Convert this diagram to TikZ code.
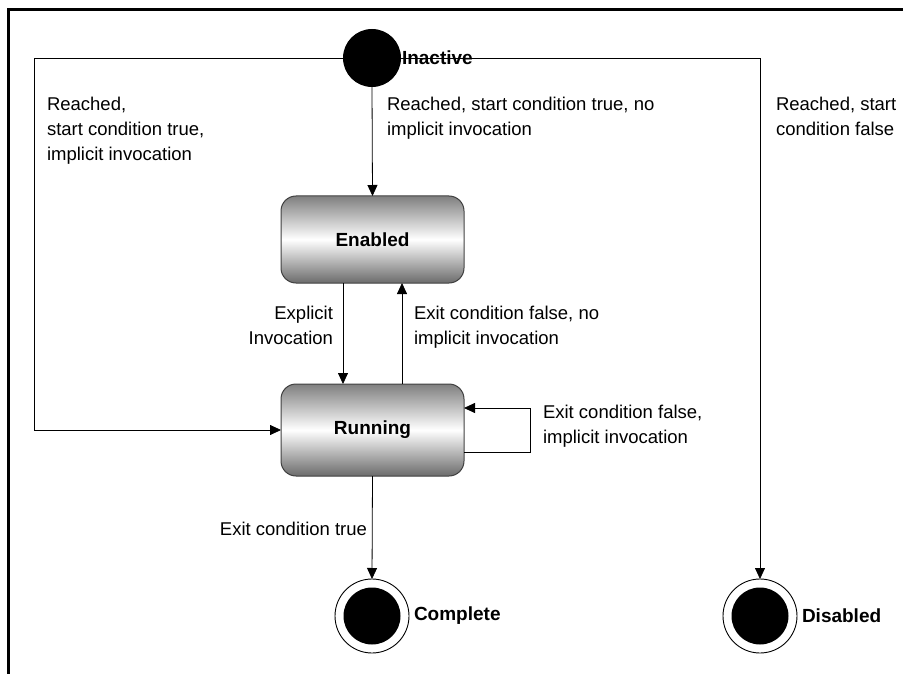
\documentclass[tikz,border=0pt]{standalone}
\usepackage{fontspec}
\setmainfont{Liberation Sans}
\usetikzlibrary{arrows.meta,shapes.geometric}
\begin{document}
\begin{tikzpicture}[x=1pt,y=-1pt,
  every node/.style={inner sep=0pt, outer sep=0pt},
  lbl/.style={font=\fontsize{18.5}{25}\selectfont, align=left},
  statename/.style={font=\fontsize{19}{22}\selectfont\bfseries},
  statebox/.style={draw=black!75, line width=1pt, rounded corners=15pt,
    minimum width=183pt,
    top color=black!50, bottom color=black!58, middle color=white,
    font=\fontsize{19}{22}\selectfont\bfseries},
  initial/.style={circle, fill=black, minimum size=58pt},
  finalring/.style={circle, draw=black, line width=0.9pt, fill=white, minimum size=74pt},
  finaldot/.style={circle, fill=black, minimum size=57pt},
  conn/.style={line width=0.8pt},
  arr/.style={conn, -{Triangle[length=11pt,width=10pt]}},
  frame/.style={line width=3pt}]
\useasboundingbox (0,0) rectangle (903,674);

% outer frame
\draw[frame] (8,674) -- (8,10) -- (903,10);

% states
\node[initial] (inactive) at (372,58) {};
\node[statename, anchor=west] (inactivelbl) at (402,58) {Inactive};
\node[statebox, minimum height=87pt] (enabled) at (372.5,239.5) {Enabled};
\node[statebox, minimum height=92pt] (running) at (372.5,430) {Running};
\node[finalring] (complete) at (372,616) {};
\node[finaldot] (completedot) at (complete.center) {};
\node[statename, anchor=west] (completelbl) at (414,616) {Complete};
\node[finalring] (disabled) at (760,616) {};
\node[finaldot] (disableddot) at (disabled.center) {};
\node[statename, anchor=west] (disabledlbl) at (802,616) {Disabled};

% bend points
\coordinate (lcorner) at (34,58);
\coordinate (rcorner) at (760,58);
\coordinate (loopx) at (530,430);

% transitions
\draw[arr] (inactive.west) -- (lcorner) |- (running.west);
\draw[arr] (inactive.east) -- (rcorner) -- (disabled.north);
\draw[arr] (inactive.south) -- (enabled.north);
\draw[arr] ([xshift=-29.5pt]enabled.south) -- ([xshift=-29.5pt]running.north);
\draw[arr] ([xshift=29.5pt]running.north) -- ([xshift=29.5pt]enabled.south);
\draw[arr] ([yshift=-22pt]running.east) -| ([yshift=-22pt]loopx) |- ([yshift=22pt]running.east);
\draw[arr] (running.south) -- (complete.north);

% transition labels
\node[lbl, anchor=north west] (l1) at (47,97) {Reached,\\start condition true,\\implicit invocation};
\node[lbl, anchor=north west] (l2) at (387,97) {Reached, start condition true, no\\implicit invocation};
\node[lbl, anchor=north west] (l3) at (776,97) {Reached, start\\condition false};
\node[lbl, align=right, anchor=north east] (l4) at (333,306) {Explicit\\Invocation};
\node[lbl, anchor=north west] (l5) at (414,306) {Exit condition false, no\\implicit invocation};
\node[lbl, anchor=north west] (l6) at (543,405) {Exit condition false,\\implicit invocation};
\node[lbl, anchor=east] (l7) at (367,529) {Exit condition true};
\end{tikzpicture}
\end{document}
